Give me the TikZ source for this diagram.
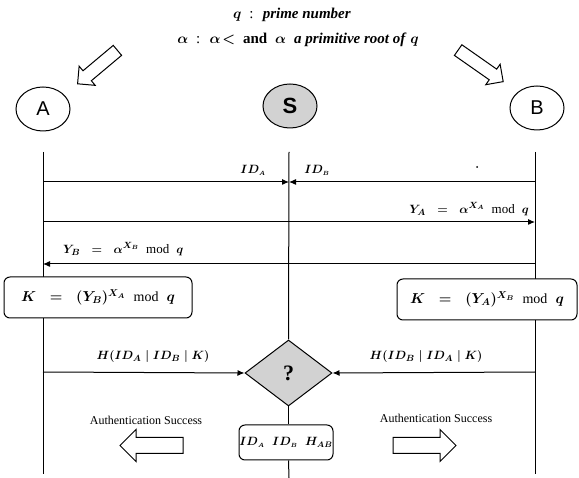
\documentclass[tikz,border=0pt]{standalone}
\usepackage{fontspec}
\setmainfont{Liberation Serif}
\newfontfamily\arialfont{Liberation Sans}
\usetikzlibrary{shapes.geometric,shapes.arrows,arrows.meta}
\newcommand{\modtxt}{\mbox{\normalfont\ mod\ }}
\begin{document}
\begin{tikzpicture}[x=1pt,y=-1pt,
  party/.style={ellipse, draw, line width=1pt, minimum width=54pt, minimum height=44pt, inner sep=0pt, font=\arialfont\fontsize{20}{20}\selectfont},
  life/.style={line width=1pt},
  msg/.style={line width=1pt, -{Latex[length=7pt,width=6pt]}},
  keybox/.style={draw, fill=white, rounded corners=6pt, line width=1pt, minimum height=41pt, inner sep=0pt, font=\fontsize{14}{14}\selectfont\boldmath},
  mlabel/.style={inner sep=1pt, font=\fontsize{13}{13}\selectfont\boldmath},
  titlelabel/.style={inner sep=1pt, font=\fontsize{15}{15}\selectfont\boldmath},
  hollow/.style={single arrow, draw, fill=white, line width=1pt, inner xsep=0pt, single arrow tip angle=90, single arrow head indent=0pt},
  plain/.style={inner sep=1pt, font=\fontsize{12}{12}\selectfont}
]
\useasboundingbox (0,0) rectangle (579,478);
% title
\node[titlelabel] (t1) at (292,15) {$q$ \;:\; \textbf{\textit{prime number}}};
\node[titlelabel] (t2) at (298,40) {$\alpha$ \;:\; $\alpha\!<$\; \textbf{and}\; $\alpha$\; \textbf{\textit{a primitive root of}} $q$};
% top hollow arrows
\node[hollow, minimum height=52pt, inner ysep=6pt, single arrow head extend=6pt, rotate=220] (ha) at (100,65) {};
\node[hollow, minimum height=55pt, inner ysep=6pt, single arrow head extend=6pt, rotate=-35] (hb) at (478,64) {};
% parties
\node[party] (A) at (43,109) {A};
\node[party, fill=gray!35, font=\arialfont\bfseries\fontsize{22}{22}\selectfont] (S) at (290,106) {S};
\node[party] (B) at (537,108) {B};
% lifeline coordinates
\coordinate (aT) at (43,152);
\coordinate (aE) at (43,474);
\coordinate (sT) at (289,152);
\coordinate (sE) at (289,478);
\coordinate (bT) at (535,152);
\coordinate (bE) at (535,474);
\draw[life] (aT) -- (aE);
\draw[life] (bT) -- (bE);
% ID messages
\coordinate (aID) at (43,182);
\coordinate (sID) at (289,182);
\coordinate (bID) at (535,182);
\draw[msg] (aID) -- (sID);
\draw[msg] (bID) -- (sID);
\node[mlabel, font=\fontsize{12}{12}\selectfont\boldmath] (lida) at (253,170) {$ID_{\scriptscriptstyle A}$};
\node[mlabel, font=\fontsize{12}{12}\selectfont\boldmath] (lidb) at (317,170) {$ID_{\scriptscriptstyle B}$};
\fill (477,167) circle (1pt);
% Y_A
\coordinate (aYA) at (43,222);
\coordinate (bYA) at (535,222);
\draw[msg] (aYA) -- (bYA);
\node[mlabel, anchor=east] (lya) at (530,209) {$Y_A \;\;=\;\; \alpha^{X_A}\;\modtxt\; q$};
% Y_B
\coordinate (bYB) at (535,264);
\coordinate (aYB) at (43,264);
\draw[msg] (bYB) -- (aYB);
\node[mlabel, anchor=west] (lyb) at (62,249) {$Y_B \;\;=\;\; \alpha^{X_B}\;\modtxt\; q$};
% key boxes
\node[keybox, minimum width=188pt] (ka) at (98,297.5) {$K \;\;=\;\; (Y_B)^{X_A}\;\modtxt\; q$};
\node[keybox, minimum width=180pt] (kb) at (487,299.5) {$K \;\;=\;\; (Y_A)^{X_B}\;\modtxt\; q$};
% diamond
\node[diamond, draw, fill=gray!35, line width=1pt, minimum width=87pt, minimum height=66pt, inner sep=0pt, aspect=1.32, font=\fontsize{22}{22}\selectfont\bfseries] (D) at (288.5,373) {?};
\coordinate (aH) at (43,372);
\coordinate (bH) at (535,372);
\draw[msg] (aH) -- (D.west);
\draw[msg] (bH) -- (D.east);
\node[mlabel] (lha) at (153,357) {$H(ID_A\;\mathbf{|}\;ID_B\;\mathbf{|}\;K)$};
\node[mlabel] (lhb) at (426,357) {$H(ID_B\;\mathbf{|}\;ID_A\;\mathbf{|}\;K)$};
% result box
\node[keybox, minimum width=94pt, minimum height=35pt, font=\fontsize{12}{12}\selectfont\boldmath] (R) at (286,442.5) {$ID_{\scriptscriptstyle A}\;\; ID_{\scriptscriptstyle B}\;\; H_{AB}$};
\draw[life] (sT) -- (D.north);
\draw[life] (D.south) -- (D.south |- R.north);
\draw[life] (D.south |- R.south) -- (sE);
% authentication
\node[plain] (aua) at (146,420) {Authentication Success};
\node[plain] (aub) at (436,418) {Authentication Success};
\node[hollow, minimum height=63pt, inner ysep=7.5pt, single arrow head extend=8pt, rotate=180] (la) at (155.5,445.5) {};
\node[hollow, minimum height=63pt, inner ysep=7.5pt, single arrow head extend=8pt] (ra) at (420.5,445.5) {};
\end{tikzpicture}
\end{document}
